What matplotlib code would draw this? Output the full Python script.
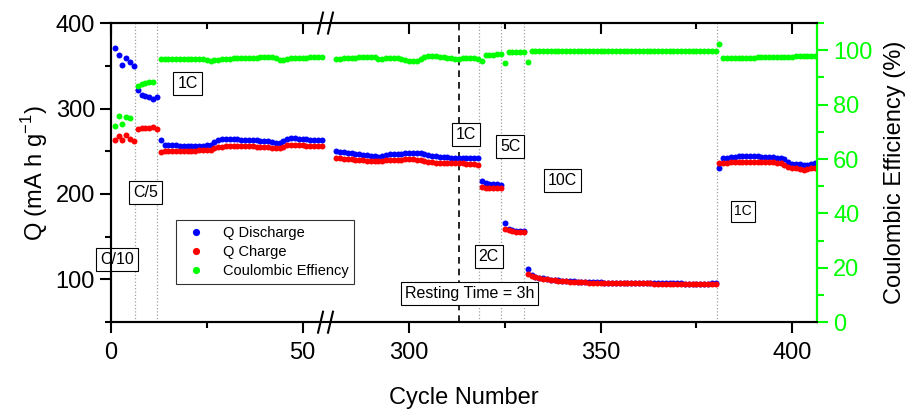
import numpy as np
import matplotlib
matplotlib.use("Agg")
import matplotlib.pyplot as plt
from matplotlib.ticker import FixedLocator, MultipleLocator

plt.rcParams['font.family'] = ['Liberation Sans', 'DejaVu Sans']

# cycle numbers (the axis is broken between 55 and 281)
cycles = list(range(1, 56)) + list(range(281, 407))

q_dis = [
    # C/10
    370.5, 362.7, 351.0, 358.8, 354.8, 350.2,
    # C/5
    321.4, 316.0, 315.2, 314.0, 311.3, 314.0,
    # 1C
    263.5, 257.3, 257.0, 256.8, 256.8, 256.6, 256.6, 256.5, 256.5, 256.5,
    256.5, 256.6, 256.8, 257.5, 260.5, 263.5, 264.3, 264.5, 264.3, 264.0,
    263.8, 263.5, 263.5, 263.3, 263.0, 262.8, 262.5, 262.3, 262.0, 261.0,
    259.8, 259.6, 262.5, 264.3, 265.0, 265.2, 264.8, 264.2, 263.8, 263.5,
    263.2, 263.0, 262.8,
    # 1C after the break
    250.0, 249.5, 249.0, 248.5, 248.0, 247.3, 246.5, 246.0, 245.3, 244.5,
    244.0, 243.3, 244.5, 246.0, 246.5, 247.0, 247.0, 247.2, 247.5, 247.8,
    248.0, 248.0, 247.5, 246.5, 245.5, 244.5, 244.0, 243.5, 243.0, 242.8,
    242.5, 242.2, 242.1, 242.0, 242.0, 242.0, 242.0, 242.0,
    # 2C
    215.6, 213.0, 212.0, 211.5, 211.2, 211.0,
    # 5C
    166.2, 159.5, 158.0, 157.0, 156.5, 156.8,
    # 10C
    111.8, 105.0, 103.2, 102.2, 101.3, 100.5, 99.9, 99.4, 99.0, 98.6,
    98.3, 98.0, 97.7, 97.4, 97.2, 97.0, 96.8, 96.7, 96.6, 96.5,
    96.4, 96.3, 96.2, 96.2, 96.1, 96.0, 96.0, 95.9, 95.9, 95.8,
    95.8, 95.7, 95.7, 95.6, 95.6, 95.5, 95.5, 95.4, 95.4, 95.3,
    95.3, 95.2, 95.2, 95.2, 95.1, 95.1, 95.1, 95.2, 95.3, 95.4,
    # 1C
    230.4, 242.1, 242.5, 243.0, 243.5, 244.0, 244.2, 244.3, 244.3, 244.2,
    244.0, 243.8, 243.5, 243.3, 243.0, 242.5, 242.0, 241.3, 238.0, 235.5,
    235.3, 235.0, 234.0, 234.2, 235.5, 235.8,
]

q_chg = [
    262.7, 268.1, 262.7, 268.5, 264.6, 262.3,
    276.3, 277.1, 277.1, 277.5, 278.3, 276.6,
    248.7, 250.2, 250.5, 250.7, 250.7, 250.8, 250.8, 250.8, 250.8, 250.8,
    251.0, 251.2, 251.5, 252.0, 253.8, 255.0, 255.5, 255.8, 256.0, 256.0,
    256.0, 256.0, 255.8, 255.8, 255.6, 255.5, 255.3, 255.2, 255.0, 254.3,
    253.8, 253.5, 255.5, 257.0, 257.3, 257.3, 257.0, 256.8, 256.5, 256.3,
    256.0, 256.0, 256.0,
    242.1, 241.8, 241.5, 241.0, 240.5, 240.0, 239.5, 239.2, 238.8, 238.5,
    238.3, 238.2, 239.0, 240.0, 240.0, 240.0, 240.0, 240.2, 240.4, 240.5,
    240.5, 240.0, 239.3, 238.5, 237.8, 237.0, 236.8, 236.5, 236.4, 236.3,
    236.3, 236.2, 236.0, 235.8, 235.6, 235.5, 235.2, 234.3,
    208.0, 207.5, 207.2, 207.0, 207.0, 207.2,
    159.3, 157.5, 156.6, 156.0, 155.8, 156.0,
    106.7, 104.5, 102.8, 101.8, 100.9, 100.1, 99.5, 99.0, 98.6, 98.2,
    97.9, 97.6, 97.3, 97.0, 96.8, 96.6, 96.4, 96.3, 96.2, 96.1,
    96.0, 95.9, 95.8, 95.8, 95.7, 95.6, 95.6, 95.5, 95.5, 95.4,
    95.4, 95.3, 95.3, 95.2, 95.2, 95.1, 95.1, 95.0, 95.0, 94.9,
    94.9, 94.8, 94.8, 94.8, 94.7, 94.7, 94.7, 94.8, 94.9, 95.0,
    236.3, 236.3, 236.6, 237.0, 237.4, 237.8, 237.9, 238.0, 238.0, 237.9,
    237.8, 237.6, 237.4, 237.2, 237.0, 236.6, 236.0, 234.3, 231.5, 230.4,
    230.0, 229.5, 228.5, 228.8, 230.0, 230.4,
]

ce = [
    72.2, 76.0, 72.9, 75.6, 75.0, np.nan,
    87.0, 87.5, 87.8, 88.4, 88.5, np.nan,
    96.8, 96.8, 96.8, 96.8, 96.8, 96.8, 96.8, 96.8, 96.8, 96.8,
    96.8, 96.8, 96.5, 96.2, 96.3, 96.6, 96.8, 96.9, 96.9, 97.0,
    97.0, 97.1, 97.1, 97.2, 97.2, 97.3, 97.4, 97.5, 97.6, 97.7,
    97.0, 96.5, 96.4, 96.8, 97.0, 97.0, 97.1, 97.2, 97.3, 97.4,
    97.5, 97.6, 97.7,
    96.8, 96.9, 97.0, 97.1, 97.2, 97.3, 97.4, 97.5, 97.6, 97.7,
    97.7, 96.8, 96.9, 97.0, 97.1, 97.2, 97.0, 96.8, 96.5, 96.0,
    95.9, 96.2, 96.8, 97.4, 97.8, 98.0, 97.8, 97.6, 97.5, 97.3,
    97.0, 96.8, 96.9, 97.0, 97.0, 97.1, 97.0, 96.8,
    95.9, 98.3, 98.4, 98.4, 98.5, 98.5,
    95.5, 99.2, 99.3, 99.3, 99.4, 99.4,
    95.6, 99.6, 99.6, 99.6, 99.6, 99.6, 99.6, 99.6, 99.6, 99.6,
    99.6, 99.6, 99.6, 99.6, 99.6, 99.6, 99.6, 99.6, 99.6, 99.6,
    99.6, 99.6, 99.6, 99.6, 99.6, 99.6, 99.6, 99.6, 99.6, 99.6,
    99.6, 99.6, 99.6, 99.6, 99.6, 99.6, 99.6, 99.6, 99.6, 99.6,
    99.6, 99.6, 99.6, 99.6, 99.6, 99.6, 99.6, 99.6, 99.6, 99.6,
    102.3, 97.1, 97.1, 97.1, 97.2, 97.2, 97.2, 97.3, 97.3, 97.3,
    97.4, 97.4, 97.4, 97.5, 97.5, 97.5, 97.6, 97.6, 97.7, 97.7,
    97.8, 97.8, 97.9, 97.9, 98.0, 98.0,
]

# rate changes (dotted) and resting point (dashed)
rate_changes = [6.2, 12.1, 318.2, 324.1, 330.1, 380.5]
rest_cycle = 313.0

# rate labels: text, cycle, Q
rate_labels = [
    ("C/10", 1.6, 123), ("C/5", 9.1, 202), ("1C", 20.0, 329),
    ("1C", 314.8, 270), ("5C", 326.4, 255), ("2C", 320.8, 127),
    ("10C", 340.1, 216),
]

GAP = 222.2  # cycles removed by the axis break


def fwd(x):
    x = np.asarray(x, dtype=float)
    return np.where(x > 167, x - GAP, x)


def inv(u):
    u = np.asarray(u, dtype=float)
    return np.where(u > 56.05, u + GAP, u)


fig = plt.figure(figsize=(9.17, 4.12), dpi=100)
fig.subplots_adjust(left=0.121, right=0.891, bottom=0.218, top=0.944)
ax = fig.add_subplot(111)
ax.set_xscale('function', functions=(fwd, inv))
ax.set_xlim(0, 406.5)
ax.set_ylim(50, 400)

ax2 = ax.twinx()
ax2.set_ylim(0, 110)

for c in rate_changes:
    ax.axvline(c, color='#a0a0a0', ls=':', lw=0.9, zorder=1)
ax.axvline(rest_cycle, color='black', ls=(0, (4, 3)), lw=1.2, zorder=1)

h1, = ax.plot(cycles, q_dis, 'o', color='#0000ff', ms=4.3, mew=0, label='Q Discharge', zorder=3)
h2, = ax.plot(cycles, q_chg, 'o', color='#ff0000', ms=4.3, mew=0, label='Q Charge', zorder=3)
h3, = ax2.plot(cycles, ce, 'o', color='#00ff00', ms=4.3, mew=0, label='Coulombic Effiency', zorder=3)

box = dict(boxstyle='square,pad=0.25', fc='white', ec='black', lw=0.8)
for txt, cx, qy in rate_labels:
    ax.text(cx, qy, txt, ha='center', va='center', fontsize=11.5, bbox=box, zorder=4)
ax.text(387.2, 180, "1C", ha='center', va='center', fontsize=10, bbox=box, zorder=4)
ax.text(315.8, 84, "Resting Time = 3h", ha='center', va='center', fontsize=11.5,
        bbox=box, zorder=4)

leg = ax.legend(handles=[h1, h2, h3], loc='upper left', bbox_to_anchor=(0.092, 0.341),
                borderaxespad=0, fontsize=10.5, frameon=True, fancybox=False,
                edgecolor='black', handletextpad=0.8, borderpad=0.4, labelspacing=0.35,
                markerscale=1.2)
leg.get_frame().set_linewidth(0.8)
leg.set_zorder(5)

# ticks
ax.xaxis.set_major_locator(FixedLocator([0, 50, 300, 350, 400]))
ax.xaxis.set_minor_locator(FixedLocator([25, 325, 375]))
ax.yaxis.set_major_locator(MultipleLocator(100))
ax.yaxis.set_minor_locator(MultipleLocator(50))
ax.tick_params(axis='both', which='major', direction='out', length=8, width=1.5, labelsize=17)
ax.tick_params(axis='both', which='minor', direction='out', length=4, width=1.5)
ax.tick_params(axis='x', top=False, pad=6)

ax2.yaxis.set_major_locator(MultipleLocator(20))
ax2.yaxis.set_minor_locator(MultipleLocator(10))
ax2.tick_params(axis='y', which='major', direction='out', length=8, width=1.5,
                colors='#00ff00', labelsize=17)
ax2.tick_params(axis='y', which='minor', direction='out', length=5, width=1.5, colors='#00ff00')

# top ticks pointing inward
ax3 = fig.add_axes(ax.get_position(), sharex=ax)
ax3.patch.set_visible(False)
ax3.yaxis.set_visible(False)
for s in ax3.spines.values():
    s.set_visible(False)
ax3.xaxis.tick_top()
ax3.tick_params(axis='x', which='major', direction='in', length=8, width=1.5, labeltop=False)
ax3.tick_params(axis='x', which='minor', direction='in', length=4, width=1.5)

for s in ax.spines.values():
    s.set_linewidth(1.5)
for s in ax2.spines.values():
    s.set_linewidth(1.5)
ax2.spines['right'].set_color('#00ff00')

ax.set_xlabel("Cycle Number", fontsize=17, labelpad=17)
ax.set_ylabel(r"Q (mA h g$^{\mathregular{-1}}$)", fontsize=17)
ax2.set_ylabel("Coulombic Efficiency (%)", fontsize=17, labelpad=8)

# axis break marks
tr = ax.get_xaxis_transform()
for yy in (0, 1):
    ax.plot([54.7, 57.3], [yy, yy], color='white', lw=3, transform=tr, clip_on=False, zorder=6)
    for xb in (54.7, 57.3):
        ax.plot([xb - 0.65, xb + 0.65], [yy - 0.035, yy + 0.035], color='black', lw=1.5,
                transform=tr, clip_on=False, zorder=7)

fig.savefig("out.png", dpi=100)
